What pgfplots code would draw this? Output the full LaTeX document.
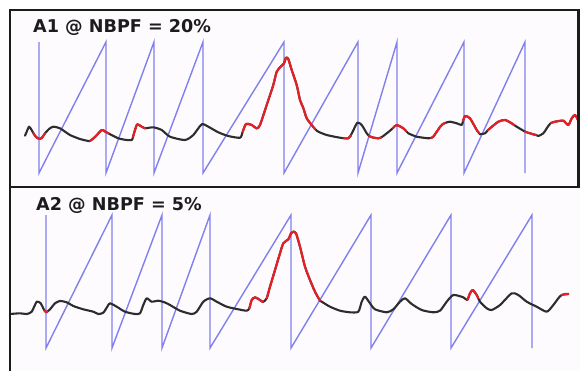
\documentclass[border=0pt]{standalone}
\usepackage{pgfplots}
\pgfplotsset{compat=1.18}
\usepackage{fontspec}
\setmainfont{DejaVu Sans}
\definecolor{sawblue}{RGB}{128,128,238}
\definecolor{sigred}{RGB}{232,30,36}
\definecolor{sigblack}{RGB}{45,45,45}
\definecolor{framec}{RGB}{28,28,28}
\definecolor{panelbg}{RGB}{253,251,253}
\begin{document}
\begin{tikzpicture}
\begin{axis}[
  scale only axis, width=580pt, height=371pt,
  xmin=0, xmax=580, ymin=0, ymax=371, y dir=reverse,
  ticks=none, axis line style={draw=none},
  clip=false,
  sig/.style={line width=2.1pt, line join=round, line cap=round},
]
% panel backgrounds
\fill[panelbg] (axis cs:10,10) rectangle (axis cs:579,187);
\fill[panelbg] (axis cs:10,187) rectangle (axis cs:580,371);

% ---------- Panel 1 : sawtooth ----------
\addplot[sawblue, line width=1.4pt, line join=miter] coordinates {
(39,42)(39,173)(106,42)(106,173)(154,42)(154,173)(203,42)(203,173)(284,42)(284,173)
(358,42)(358,173)(397,42)(397,173)(464,42)(464,173)(525,42)(525,173)};

% ---------- Panel 1 : signal ----------
\addplot[sigblack, sig, smooth, tension=0.4] coordinates {
(25,135.7)(27,131)(29,126.7)(31,129)(33.3,133)(36,137)(40,139)(42.5,137)(45,133.3)(49,129)(53.3,126.7)(60,128.3)(70,135)(80,139)(88.3,141)(90,141)(95,137)(101.7,130)(105,131.5)(108.3,133.3)(118.3,138.3)(126.7,140)(131.7,140)(133,137)(135,130)(137.3,124.3)(141.7,126.7)(145,128.3)(153.3,127.3)(161.7,130)(170,136.7)(185,140)(193.3,135)(201.7,124.3)(208.3,126.7)(218.3,132.3)(228.3,136)(240,137.7)(242.7,131.7)(246,124)(251.7,125)(256.7,128.3)(260,125)(266.7,105)(273.3,85)(276.7,71.7)(280.7,66.7)(284,63.3)(286,57.7)(288.3,59)(291.7,70)(296.7,85)(300,100)(303.3,108)(306.7,118.3)(311.7,125)(315,129)(318.3,131.7)(326.7,135)(340,137.7)(348.3,138.3)(352,133)(357.3,122.7)(361.7,125)(366.7,133.3)(369,136)(373,137.5)(378.3,138.3)(381,137.5)(383.3,136)(390,130.7)(393,128)(396.7,125)(403.3,128.3)(406,131)(408.3,133.3)(416.7,136.7)(428.3,138.3)(431,138)(433.3,136.7)(440,127)(443,124)(445,123)(450,121.7)(456.7,123.3)(461.7,125)(463,121)(465,116)(470,118.3)(476.7,130)(479,133)(480,134.3)(485,133.3)(488,130)(490,128.3)(498.3,121.7)(505,120)(511.7,123.3)(514,125)(516.7,126.7)(523.3,130.7)(525,131.5)(526.7,132.3)(533.3,134.3)(536,135)(538.3,136)(543.3,133.3)(548.3,126)(551,123)(555,121.7)(563.3,120.7)(568.3,125)(571.7,118.3)(575,115)(578,120)};
\addplot[sigred, sig, smooth, tension=0.4] coordinates {(33.3,133)(36,137)(40,139)(42.5,137)(45,133.3)};
\addplot[sigred, sig, smooth, tension=0.4] coordinates {(90,141)(95,137)(101.7,130)(105,131.5)(108.3,133.3)};
\addplot[sigred, sig, smooth, tension=0.4] coordinates {(133,137)(135,130)(137.3,124.3)(141.7,126.7)(145,128.3)};
\addplot[sigred, sig, smooth, tension=0.4] coordinates {(242.7,131.7)(246,124)(251.7,125)(256.7,128.3)(260,125)(266.7,105)(273.3,85)(276.7,71.7)(280.7,66.7)(284,63.3)(286,57.7)(288.3,59)(291.7,70)(296.7,85)(300,100)(303.3,108)(306.7,118.3)(311.7,125)(315,129)};
\addplot[sigred, sig, smooth, tension=0.4] coordinates {(344,138.2)(348.3,138.3)(351,135.5)};
\addplot[sigred, sig, smooth, tension=0.4] coordinates {(369,136)(373,137.5)(378.3,138.3)(381,137.5)};
\addplot[sigred, sig, smooth, tension=0.4] coordinates {(393,128)(396.7,125)(403.3,128.3)(406,131)};
\addplot[sigred, sig, smooth, tension=0.4] coordinates {(431,138)(433.3,136.7)(440,127)(443,124)(445,123)};
\addplot[sigred, sig, smooth, tension=0.4] coordinates {(463,121)(465,116)(470,118.3)(476.7,130)(479,133)};
\addplot[sigred, sig, smooth, tension=0.4] coordinates {(488,130)(490,128.3)(498.3,121.7)(505,120)(511.7,123.3)(514,125)};
\addplot[sigred, sig, smooth, tension=0.4] coordinates {(525,131.5)(526.7,132.3)(533.3,134.3)(536,135)};
\addplot[sigred, sig, smooth, tension=0.4] coordinates {(551,123)(555,121.7)(563.3,120.7)(568.3,125)(571.7,118.3)(575,115)(578,120)};

% ---------- Panel 2 : sawtooth ----------
\addplot[sawblue, line width=1.4pt, line join=miter] coordinates {
(46,215)(46,348)(112,215)(112,348)(162,215)(162,348)(210,215)(210,348)(291,215)(291,348)
(371,215)(371,348)(451,215)(451,348)(532,215)(532,348)};

% ---------- Panel 2 : signal ----------
\addplot[sigblack, sig, smooth, tension=0.4] coordinates {
(10,314)(20,313.3)(26.7,314)(31.7,311.7)(36.7,301.7)(40.7,303.3)(43.3,308.3)(46,312.3)(50,309.3)(55,303.3)(60,301)(66.7,302.3)(73.3,306)(83.3,309.3)(93.3,311.7)(98.3,314)(103.3,312.7)(107.3,306.7)(110,303.3)(116.7,306.7)(125,311.7)(135,314)(140,313.3)(143.3,305)(146.7,298.3)(151.7,301.7)(158.3,300.7)(165,302.5)(170,305)(180,310.7)(191.7,314)(196.7,311.7)(203.3,301.7)(210,298.3)(216.7,301.7)(226.7,306.7)(238.3,309.3)(246.7,310.7)(249.3,308.3)(251.7,300)(255,297.3)(260,300)(263,302)(266.7,298.3)(270,286.7)(275,270)(280,253.3)(283.3,243.3)(288.3,239.3)(291,233.3)(293.3,231.7)(296,233.3)(300,246.7)(305,266.7)(310,280)(315,291.7)(320,300.7)(321.7,301.7)(330,306.7)(340,310.7)(350,312.3)(358.3,311.7)(361.7,301.7)(365,296.7)(370,303.3)(375,309.3)(386.7,312.3)(393.3,309.3)(400,301.7)(405,298.3)(411.7,304)(421.7,310)(433.3,312.3)(440,310.7)(446.7,301.7)(453.3,295)(463.3,297.3)(467.3,300)(470,293.3)(472.7,290)(476.7,295)(480,301.7)(486.7,308.3)(491.7,310)(500,305)(511.7,293.3)(518.3,295)(526.7,301.7)(536.7,306.7)(546.7,311.7)(553.3,305)(558.3,298.3)(561.7,295)(568.3,294)};
\addplot[sigred, sig] coordinates {(44.5,310.5)(46,312.3)(47.5,311.5)};
\addplot[sigred, sig, smooth, tension=0.4] coordinates {(249.3,308.3)(251.7,300)(255,297.3)(260,300)(263,302)};
\addplot[sigred, sig, smooth, tension=0.4] coordinates {(266.7,298.3)(270,286.7)(275,270)(280,253.3)(283.3,243.3)(288.3,239.3)(291,233.3)(293.3,231.7)(296,233.3)(300,246.7)(305,266.7)(310,280)(315,291.7)(320,300.7)};
\addplot[sigred, sig, smooth, tension=0.4] coordinates {(467.3,300)(470,293.3)(472.7,290)(476.7,295)(478,298)};
\addplot[sigred, sig, smooth, tension=0.4] coordinates {(561.7,295)(565,294)(568.3,294)};

% frames
\draw[framec, line width=2.5pt] (axis cs:10,10) rectangle (axis cs:578.5,187);
\draw[framec, line width=2.5pt] (axis cs:10,187) -- (axis cs:10,371);

% titles
\node[anchor=base west, inner sep=0pt, text=framec, font=\fontsize{17.6}{17.6}\selectfont\bfseries] at (axis cs:33,32) {A1 @ NBPF = 20\%};
\node[anchor=base west, inner sep=0pt, text=framec, font=\fontsize{17.6}{17.6}\selectfont\bfseries] at (axis cs:36,210) {A2 @ NBPF = 5\%};
\end{axis}
\end{tikzpicture}
\end{document}
